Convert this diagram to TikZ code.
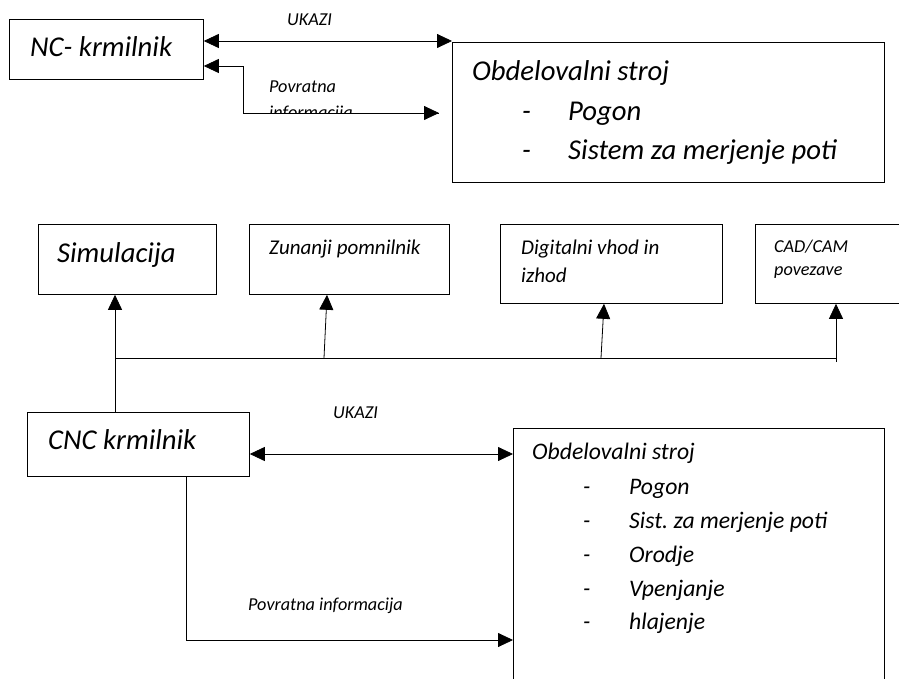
\documentclass[tikz,border=0pt]{standalone}
\usepackage{fontspec}
\setmainfont{Carlito}
\usetikzlibrary{arrows.meta}
\frenchspacing
\newcommand{\fs}[1]{\fontsize{#1}{#1}\selectfont\itshape}
\tikzset{
  box/.style={draw, line width=0.8pt, inner sep=0pt, anchor=north west},
  lbl/.style={anchor=base west, inner sep=0pt},
  big/.style={lbl, font=\fs{28.7}},
  mid/.style={lbl, font=\fs{23.7}},
  med/.style={lbl, font=\fs{21}},
  sml/.style={lbl, font=\fs{18.2}},
  conn/.style={line width=0.8pt},
  tip/.style={-{Triangle[length=15pt,width=14pt]}},
  tips/.style={{Triangle[length=15pt,width=14pt]}-{Triangle[length=15pt,width=14pt]}},
  tipl/.style={{Triangle[length=15pt,width=14pt]}-}
}
\begin{document}
\begin{tikzpicture}[x=1pt,y=-1pt]
\useasboundingbox (0,0) rectangle (899,679);
\clip (0,0) rectangle (899,679);
% boxes
\node[box, minimum width=194pt, minimum height=60pt] (nc) at (9,19) {};
\node[box, minimum width=432pt, minimum height=140pt] (m1) at (452,42) {};
\node[box, minimum width=178pt, minimum height=70pt] (sim) at (38,224) {};
\node[box, minimum width=200pt, minimum height=70pt] (zun) at (249,224) {};
\node[box, minimum width=222pt, minimum height=79pt] (dig) at (500,224) {};
\node[box, minimum width=170pt, minimum height=79pt] (cad) at (755,224) {};
\node[box, minimum width=222pt, minimum height=64pt] (cnc) at (27,412) {};
\node[box, minimum width=371pt, minimum height=290pt] (m2) at (513,428) {};
% texts top
\node[big] (tnc) at (30,57) {NC- krmilnik};
\node[big] (t1a) at (472,81) {Obdelovalni stroj};
\node[big] (t1d1) at (522,121) {-};
\node[big] (t1b) at (568,121) {Pogon};
\node[big] (t1d2) at (522,160) {-};
\node[big] (t1c) at (568,160) {Sistem za merjenje poti};
\node[sml] (tuk1) at (287,26) {UKAZI};
\node[sml] (tpov1) at (269,93) {Povratna};
\begin{scope}
\clip (260,60) rectangle (440,113);
\node[sml] (tinf1) at (269,118.5) {informacija};
\end{scope}
% texts middle
\node[big] (tsim) at (57,262) {Simulacija};
\node[med] (tzun) at (269,254) {Zunanji pomnilnik};
\node[med] (tdig1) at (521,254) {Digitalni vhod in};
\node[med] (tdig2) at (521,282) {izhod};
\node[sml] (tcad1) at (774,252) {CAD/CAM};
\node[sml] (tcad2) at (774,275) {povezave};
% texts bottom
\node[big] (tcnc) at (48,449) {CNC krmilnik};
\node[sml] (tuk2) at (333,418) {UKAZI};
\node[sml] (tpov2) at (248,610) {Povratna informacija};
\node[mid] (t2a) at (532,459) {Obdelovalni stroj};
\node[mid] (d1) at (583,494) {-};
\node[mid] (i1) at (629,494) {Pogon};
\node[mid] (d2) at (583,528) {-};
\node[mid] (i2) at (629,528) {Sist. za merjenje poti};
\node[mid] (d3) at (583,562) {-};
\node[mid] (i3) at (629,562) {Orodje};
\node[mid] (d4) at (583,596) {-};
\node[mid] (i4) at (629,596) {Vpenjanje};
\node[mid] (d5) at (583,629) {-};
\node[mid] (i5) at (629,629) {hlajenje};
% top connectors
\coordinate (u1) at ([yshift=-22pt]nc.north east);
\draw[conn, tips] (u1) -- (u1 -| m1.west);
\coordinate (p1) at ([yshift=-47pt]nc.north east);
\coordinate (pc1) at (243,66);
\coordinate (pc2) at (243,113);
\coordinate (pe) at (439,113);
\draw[conn, tipl] (p1) -- (pc1) -- (pc2) -- (pe);
\draw[conn, tip] (pc2) -- (pe);
% bus
\coordinate (b0) at (115,358);
\coordinate (b1) at (324,358);
\coordinate (b2) at (601,358);
\coordinate (b3) at (836,358);
\coordinate (b3e) at (836,362);
\draw[conn] (b0) -- (b3) -- (b3e);
\draw[conn, tip] (cnc.north -| b0) -- (sim.south -| b0);
\draw[conn, tip] (b1) -- ([xshift=78pt]zun.south west);
\draw[conn, tip] (b2) -- ([xshift=104pt]dig.south west);
\draw[conn, tip] (b3e) -- (cad.south west -| b3);
% bottom connectors
\coordinate (u2) at ([yshift=-42pt]cnc.north east);
\draw[conn, tips] (u2) -- (u2 -| m2.west);
\coordinate (f0) at (186,476);
\coordinate (f1) at (186,640);
\draw[conn, tip] (f0) -- (f1) -- (f1 -| m2.west);
\end{tikzpicture}
\end{document}
